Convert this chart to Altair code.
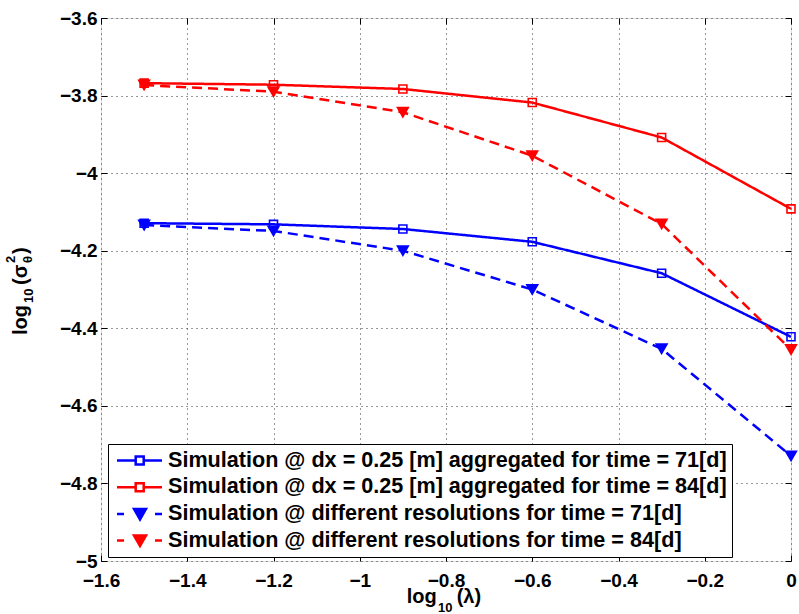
import altair as alt
import pandas as pd

# ---------------- data ----------------
x_vals = [-1.5, -1.2, -0.9, -0.6, -0.3, 0.0]
blue_solid = [-4.129, -4.132, -4.144, -4.177, -4.258, -4.422]
red_solid = [-3.768, -3.772, -3.783, -3.818, -3.908, -4.092]
blue_dashed = [-4.134, -4.149, -4.200, -4.300, -4.453, -4.729]
red_dashed = [-3.773, -3.790, -3.843, -3.955, -4.131, -4.455]

names = [
    "Simulation @ dx = 0.25 [m] aggregated for time = 71[d]",
    "Simulation @ dx = 0.25 [m] aggregated for time = 84[d]",
    "Simulation @ different resolutions for time = 71[d]",
    "Simulation @ different resolutions for time = 84[d]",
]
kinds = ["solid", "solid", "dashed", "dashed"]
colors = ["#0000ff", "#ff0000", "#0000ff", "#ff0000"]
fills = ["transparent", "transparent", "#0000ff", "#ff0000"]

x_ticks = [-1.6, -1.4, -1.2, -1.0, -0.8, -0.6, -0.4, -0.2, 0.0]
y_ticks = [-5.0, -4.8, -4.6, -4.4, -4.2, -4.0, -3.8, -3.6]

rows = []
for name, kind, vals in zip(names, kinds, [blue_solid, red_solid, blue_dashed, red_dashed]):
    for xv, yv in zip(x_vals, vals):
        rows.append({"series": name, "kind": kind, "x": xv, "y": yv})
df = pd.DataFrame(rows)

FONT = "Liberation Sans"
W, H = 690, 543

# legend symbols: line + marker drawn as custom paths
solid_path = "M-0.75,0H1.12M1.92,0H3.75M1.12,-0.4H1.92V0.4H1.12Z"
dashed_path = "M-0.75,0H-0.05M3.05,0H3.75M0.95,-0.5H2.15L1.55,0.55Z"
shapes = [solid_path, solid_path, dashed_path, dashed_path]

xs = alt.Scale(domain=[-1.6, 0], nice=False, zero=False)
ys = alt.Scale(domain=[-5, -3.6], nice=False, zero=False)
stroke_scale = alt.Scale(domain=names, range=colors)
fill_scale = alt.Scale(domain=names, range=fills)
dash_scale = alt.Scale(domain=names, range=[[1, 0], [1, 0], [10, 6], [10, 6]])
shape_scale = alt.Scale(domain=names, range=shapes)

axis_common = dict(
    grid=True, gridDash=[1, 4], gridColor="#333333", gridWidth=1, gridOpacity=1,
    domain=False, ticks=True, tickSize=6, offset=-6, tickColor="black", tickWidth=1,
    labelFont=FONT, labelFontSize=19, labelFontWeight="bold", labelColor="black",
    labelFlush=False, labelOverlap=False, labelBound=False, title=None, format="~g",
)

base = alt.Chart(df)

lines = base.mark_line(strokeWidth=2.5).encode(
    x=alt.X("x:Q", scale=xs, axis=alt.Axis(orient="bottom", values=x_ticks, labelPadding=10, **axis_common)),
    y=alt.Y("y:Q", scale=ys, axis=alt.Axis(orient="left", values=y_ticks, labelPadding=4, **axis_common)),
    stroke=alt.Stroke("series:N", scale=stroke_scale, legend=None),
    strokeDash=alt.StrokeDash("series:N", scale=dash_scale, legend=None),
    detail="series:N",
)

squares = base.transform_filter(alt.datum.kind == "solid").mark_point(
    shape="square", filled=False, size=64, strokeWidth=1.6, opacity=1
).encode(
    x=alt.X("x:Q", scale=xs, axis=None),
    y=alt.Y("y:Q", scale=ys, axis=None),
    stroke=alt.Stroke("series:N", scale=stroke_scale, legend=None),
)

triangles = base.transform_filter(alt.datum.kind == "dashed").mark_point(
    shape="triangle-down", filled=True, size=121, strokeWidth=1.5, opacity=1
).encode(
    x=alt.X("x:Q", scale=xs, axis=None),
    y=alt.Y("y:Q", scale=ys, axis=None),
    stroke=alt.Stroke("series:N", scale=stroke_scale, legend=None),
    fill=alt.Fill("series:N", scale=fill_scale, legend=None),
)

legend = alt.Legend(
    title=None, orient="none", legendX=7, legendY=426,
    fillColor="white", strokeColor="black", padding=5, rowPadding=3.7,
    labelFont=FONT, labelFontSize=21.6, labelFontWeight="bold", labelColor="black",
    labelLimit=800, labelOffset=32, symbolSize=400, symbolStrokeWidth=2.5,
    symbolOpacity=1,
)

legend_layer = base.transform_filter("false").mark_point(filled=True, opacity=1).encode(
    stroke=alt.Stroke("series:N", scale=stroke_scale, legend=legend),
    fill=alt.Fill("series:N", scale=fill_scale, legend=legend),
    shape=alt.Shape("series:N", scale=shape_scale, legend=legend),
)

tick_only = dict(grid=False, domain=False, labels=False, ticks=True, tickSize=6, offset=-6,
                 tickColor="black", tickWidth=1, title=None)
box_ticks = base.transform_filter("false").mark_point().encode(
    x=alt.X("x:Q", scale=xs, axis=alt.Axis(orient="top", values=x_ticks, **tick_only)),
    y=alt.Y("y:Q", scale=ys, axis=alt.Axis(orient="right", values=y_ticks, **tick_only)),
)

one = pd.DataFrame({"k": [0]})


def piece(txt, x, y, size, angle=0):
    kw = dict(text=txt, font=FONT, fontSize=size, fontWeight="bold", align="left",
              baseline="alphabetic", color="black")
    if angle:
        kw["angle"] = angle
    return alt.Chart(one).mark_text(**kw).encode(x=alt.value(x), y=alt.value(y))


title_pieces = [
    # x title: log10(λ)
    piece("log", 305.7, 585, 20),
    piece("10", 337, 593.5, 13),
    piece("(λ)", 355.7, 585, 20),
    # y title: log10(σθ²)
    piece("log", -74.3, 317, 20, 270),
    piece("10", -67.7, 285, 13, 270),
    piece("(σ", -74.3, 267, 20, 270),
    piece("2", -86, 245, 13, 270),
    piece("θ", -69.3, 245, 13, 270),
    piece(")", -74.3, 236, 20, 270),
]

chart = alt.layer(lines, squares, triangles, legend_layer, box_ticks, *title_pieces).resolve_axis(
    x="independent", y="independent"
).resolve_scale(
    stroke="independent", fill="independent", shape="independent", strokeDash="independent"
).resolve_legend(
    stroke="independent", fill="independent", shape="independent", strokeDash="independent"
).properties(
    width=W, height=H,
    autosize=alt.AutoSizeParams(type="none"),
    padding={"left": 101, "top": 18, "right": 8, "bottom": 53},
).configure_view(stroke="black", strokeWidth=1).configure(background="white")

chart.save("out.html", embed_options={"renderer": "svg", "actions": False})
